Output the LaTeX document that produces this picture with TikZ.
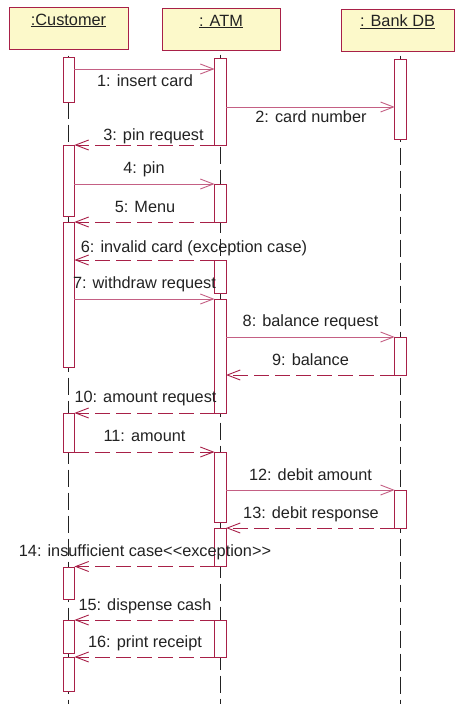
\documentclass[tikz,border=0pt]{standalone}
\usepackage{fontspec}
\setmainfont{Liberation Sans}
\usetikzlibrary{arrows.meta}
\definecolor{boxfill}{RGB}{252,249,202}
\definecolor{crim}{RGB}{168,32,72}
\definecolor{msgc}{RGB}{196,96,132}
\definecolor{ink}{RGB}{34,34,34}
\begin{document}
\begin{tikzpicture}[x=1pt,y=-1pt,
  font=\fontsize{16.3}{19}\selectfont,
  head/.style={draw=crim, fill=boxfill, line width=1pt, anchor=north,
    inner xsep=0pt, inner ysep=0pt, text height=17.5pt, text depth=24pt, text=ink},
  bar/.style={draw=crim, fill=white, line width=0.9pt, minimum width=11.5pt,
    inner sep=0pt, outer sep=0pt},
  life/.style={draw=ink, line width=0.9pt, dash pattern=on 17pt off 6pt},
  tip/.style={-{Straight Barb[length=13pt,width=10pt,line width=0.9pt]}},
  sync/.style={draw=msgc, line width=0.9pt, tip},
  ret/.style={draw=crim, line width=0.9pt, dash pattern=on 15pt off 6pt, tip},
  lbl/.style={anchor=base, inner sep=0pt, text=ink}]
\useasboundingbox (0,0) rectangle (455,704);

% headers
\node[head, minimum width=119pt] (hc) at (68.5,7) {\underline{:Customer}};
\node[head, minimum width=118pt] (ha) at (221,8) {\underline{: ATM}};
\node[head, minimum width=113pt] (hb) at (397.5,9) {\underline{: Bank DB}};

% lifelines
\coordinate (ec) at (68.7,704);
\coordinate (ea) at (220.3,704);
\coordinate (eb) at (400.5,704);
\draw[life] (ec |- hc.south) ++(0,6) -- (ec);
\draw[life] (ea |- ha.south) ++(0,4) -- (ea);
\draw[life] (eb |- hb.south) ++(0,4) -- (eb);

% activation bars
\node[bar, minimum height=45pt]  (A1) at (68.7,79.5) {};
\node[bar, minimum height=71pt]  (A2) at (68.7,180.5) {};
\node[bar, minimum height=145pt] (A3) at (68.7,294.5) {};
\node[bar, minimum height=39pt]  (A4) at (68.7,432.5) {};
\node[bar, minimum height=32pt]  (A5) at (68.7,583) {};
\node[bar, minimum height=33pt]  (A6) at (68.7,636.5) {};
\node[bar, minimum height=34pt]  (A7) at (68.7,674) {};

\node[bar, minimum height=87pt]  (B1) at (220.3,101.5) {};
\node[bar, minimum height=38pt]  (B2) at (220.3,203) {};
\node[bar, minimum height=33pt]  (B3) at (220.3,276.5) {};
\node[bar, minimum height=114pt] (B4) at (220.3,356) {};
\node[bar, minimum height=70pt]  (B5) at (220.3,487) {};
\node[bar, minimum height=38pt]  (B6) at (220.3,547) {};
\node[bar, minimum height=37pt]  (B7) at (220.3,638.5) {};

\node[bar, minimum height=80pt]  (C1) at (400.5,99) {};
\node[bar, minimum height=38pt]  (C2) at (400.5,356) {};
\node[bar, minimum height=38pt]  (C3) at (400.5,509) {};

% messages
\draw[sync] (A1.east |- 0,69)  -- (B1.west |- 0,69);
\draw[sync] (B1.east |- 0,107) -- (C1.west |- 0,107);
\draw[ret]  (B1.west |- 0,145) -- (A2.east |- 0,145);
\draw[sync] (A2.east |- 0,184) -- (B2.west |- 0,184);
\draw[ret]  (B2.west |- 0,222) -- (A3.east |- 0,222);
\draw[ret]  (B3.west |- 0,260) -- (A3.east |- 0,260);
\draw[sync] (A3.east |- 0,299) -- (B4.west |- 0,299);
\draw[sync] (B4.east |- 0,337) -- (C2.west |- 0,337);
\draw[ret]  (C2.west |- 0,375) -- (B4.east |- 0,375);
\draw[ret]  (B4.west |- 0,413) -- (A4.east |- 0,413);
\draw[ret]  (A4.east |- 0,452) -- (B5.west |- 0,452);
\draw[sync] (B5.east |- 0,490) -- (C3.west |- 0,490);
\draw[ret]  (C3.west |- 0,528) -- (B6.east |- 0,528);
\draw[ret]  (B6.west |- 0,566.5) -- (A5.east |- 0,566.5);
\draw[ret]  (B7.west |- 0,620) -- (A6.east |- 0,620);
\draw[ret]  (B7.west |- 0,657) -- (A6.east |- 0,657);

% labels
\node[lbl] (l1)  at (145,86)    {1: insert card};
\node[lbl] (l2)  at (311,122)   {2: card number};
\node[lbl] (l3)  at (153.5,140.5) {3: pin request};
\node[lbl] (l4)  at (144,173.3) {4: pin};
\node[lbl] (l5)  at (145,212.3) {5: Menu};
\node[lbl] (l6)  at (194,252)   {6: invalid card (exception case)};
\node[lbl] (l7)  at (144.5,288.3) {7: withdraw request};
\node[lbl] (l8)  at (310.5,326.7) {8: balance request};
\node[lbl] (l9)  at (310.5,365) {9: balance};
\node[lbl] (l10) at (145.5,402.7) {10: amount request};
\node[lbl] (l11) at (144.5,441.7) {11: amount};
\node[lbl] (l12) at (310.5,480) {12: debit amount};
\node[lbl] (l13) at (311,518.3) {13: debit response};
\node[lbl] (l14) at (145,556)   {14: insufficient case<{}<exception>{}>};
\node[lbl] (l15) at (145,610)   {15: dispense cash};
\node[lbl] (l16) at (145,647.7) {16: print receipt};
\end{tikzpicture}
\end{document}
